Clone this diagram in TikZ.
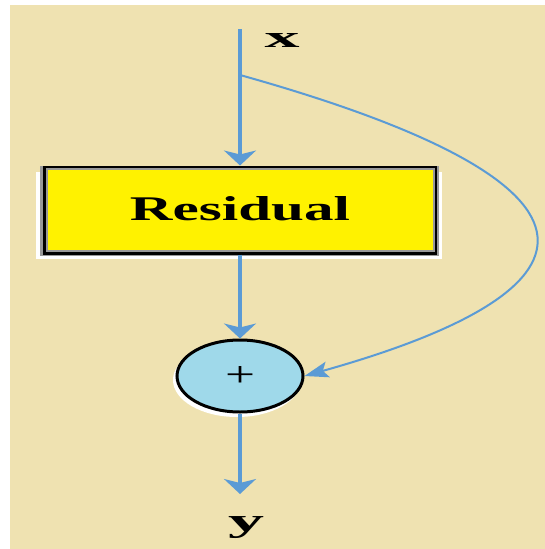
\documentclass[tikz,border=0pt]{standalone}
\usepackage{fontspec}
\setmainfont{Liberation Serif}
\usetikzlibrary{arrows.meta,shapes.geometric}
\definecolor{bgbeige}{RGB}{239,226,177}
\definecolor{linkblue}{RGB}{91,155,213}
\definecolor{boxyellow}{RGB}{255,242,0}
\definecolor{sumblue}{RGB}{159,217,234}
\tikzset{
  flow/.style={draw=linkblue, line width=3.5pt, -{Stealth[length=15pt,width=32pt,inset=4pt]}},
  skip/.style={draw=linkblue, line width=2pt, -{Stealth[length=24pt,width=16pt,inset=5pt]}},
  resbox/.style={draw=black, line width=3pt, fill=boxyellow, minimum width=391pt, minimum height=86pt, inner sep=0pt},
  sumnode/.style={ellipse, draw=black, line width=3pt, fill=sumblue, minimum width=126pt, minimum height=72pt, inner sep=0pt},
  lab/.style={inner sep=0pt}
}
\begin{document}
\begin{tikzpicture}[x=1pt,y=-1pt]
\useasboundingbox (0,0) rectangle (545,549);
\fill[white] (0,0) rectangle (545,549);
\fill[bgbeige] (10,5) rectangle (545,549);
% shadows
\fill[white] (36,172) rectangle (442,259);
\fill[gray!80] (40,166) rectangle (439,256);
\fill[white] (237,380) ellipse [x radius=64pt, y radius=37pt];
% nodes
\node[resbox] (res) at (240,210) {};
\draw[gray!80, line width=2pt] ([shift={(3.5,-3.5)}]res.south west) rectangle ([shift={(-3.5,3.5)}]res.north east);
\node[lab] at (240,209) {\resizebox{220pt}{24pt}{\textbf{Residual}}};
\node[sumnode] (sum) at (240,376) {\resizebox{30pt}{20pt}{+}};
\node[lab] (xlab) at (282,40) {\resizebox{35pt}{14pt}{\textbf{x}}};
\node[lab] (ylab) at (246,528) {\resizebox*{36pt}{22pt}{\textbf{y}}};
\coordinate (xstart) at (240,29);
\coordinate (split) at (240,75);
\coordinate (yend) at (240,494);
% connectors
\draw[flow] (xstart) -- (res.north);
\draw[flow] (res.south) -- (sum.north);
\draw[flow] (sum.south) -- (yend);
\draw[skip] (split) .. controls (622,182) and (622,287) .. (sum.east);
\end{tikzpicture}
\end{document}
